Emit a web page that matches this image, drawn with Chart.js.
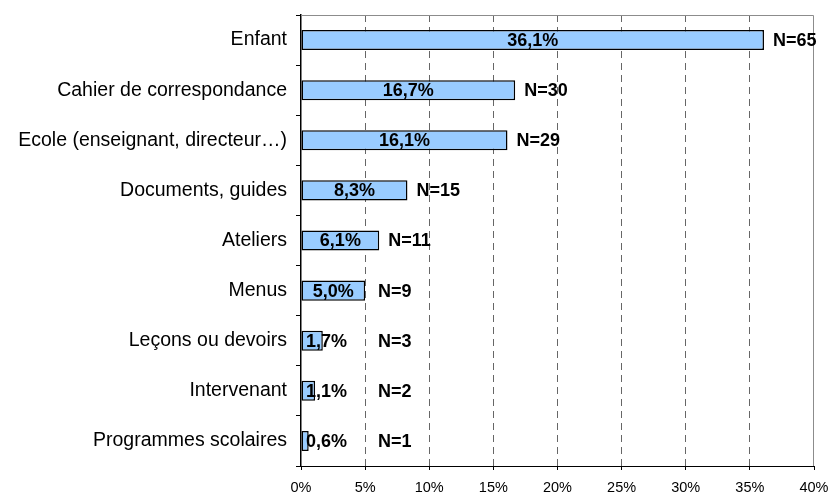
<!DOCTYPE html>
<html>
<head>
<meta charset="utf-8">
<script src="https://cdn.jsdelivr.net/npm/chart.js@4/dist/chart.umd.min.js"></script>
<style>
    html, body { margin: 0; padding: 0; background: #fff; }
    #wrap { width: 831px; height: 494px; }
</style>
</head>
<body>
<div id="wrap"><canvas id="chart" width="831" height="494"></canvas></div>
<script>
// Chart data.
const categories = [
    'Enfant',
    'Cahier de correspondance',
    'Ecole (enseignant, directeur…)',
    'Documents, guides',
    'Ateliers',
    'Menus',
    'Leçons ou devoirs',
    'Intervenant',
    'Programmes scolaires'
];
const percentValues = [36.1, 16.7, 16.1, 8.3, 6.1, 5.0, 1.7, 1.1, 0.6];
const countValues = [65, 30, 29, 15, 11, 9, 3, 2, 1];
const xTicks = [0, 5, 10, 15, 20, 25, 30, 35, 40];

const FONT = "'Liberation Sans', Arial, sans-serif";

// Format a percentage the French way.
function formatPercent(value) {
    return value.toFixed(1).replace('.', ',') + '%';
}

// Draws the value label in each bar and the N= label after it.
const barLabels = {
    id: 'barLabels',
    afterDatasetsDraw(chart) {
        const ctx = chart.ctx;
        const area = chart.chartArea;
        const xScale = chart.scales.x;
        const bars = chart.getDatasetMeta(0).data;

        ctx.save();
        ctx.fillStyle = '#000';
        ctx.textBaseline = 'middle';
        ctx.font = 'bold 18px ' + FONT;

        bars.forEach((bar, index) => {
            // Percentage inside the bar, pushed right when the bar is too short.
            const text = formatPercent(percentValues[index]);
            const width = ctx.measureText(text).width;
            const center = Math.max((bar.base + bar.x) / 2, area.left + 5 + width / 2);
            ctx.textAlign = 'center';
            ctx.fillText(text, center, bar.y + 1);

            // Count after the bar.
            const left = Math.max(bar.x + 9, xScale.getPixelForValue(6));
            ctx.textAlign = 'left';
            ctx.fillText('N=' + countValues[index], left, bar.y + 1);
        });

        ctx.restore();
    }
};

// Grey frame on the top and right of the plot area.
const plotFrame = {
    id: 'plotFrame',
    beforeDatasetsDraw(chart) {
        const ctx = chart.ctx;
        const area = chart.chartArea;
        ctx.save();
        ctx.strokeStyle = '#8c8c8c';
        ctx.lineWidth = 1;
        ctx.beginPath();
        ctx.moveTo(area.left, area.top + 0.5);
        ctx.lineTo(area.right - 0.5, area.top + 0.5);
        ctx.lineTo(area.right - 0.5, area.bottom);
        ctx.stroke();
        ctx.restore();
    }
};

new Chart(document.getElementById('chart'), {
    type: 'bar',
    data: {
        labels: categories,
        datasets: [{
            data: percentValues,
            backgroundColor: '#99ccff',
            borderColor: '#000',
            borderWidth: 1.5,
            borderSkipped: false,
            barPercentage: 0.4,
            categoryPercentage: 1
        }]
    },
    options: {
        indexAxis: 'y',
        responsive: false,
        animation: false,
        layout: {
            padding: { left: 0, top: 15, right: 17, bottom: 0 }
        },
        plugins: {
            legend: { display: false },
            tooltip: { enabled: false }
        },
        scales: {
            x: {
                min: 0,
                max: 40,
                afterFit: scale => {
                    scale.height = 28;
                    scale.paddingLeft = 0;
                    scale.paddingRight = 0;
                },
                afterBuildTicks: scale => { scale.ticks = xTicks.map(value => ({ value })); },
                ticks: {
                    callback: value => value + '%',
                    color: '#000',
                    font: { family: FONT, size: 14.5 },
                    padding: 9,
                    maxRotation: 0
                },
                grid: {
                    color: ctx => (ctx.tick && (ctx.tick.value === 0 || ctx.tick.value === 40)) ? 'rgba(0,0,0,0)' : '#666',
                    lineWidth: 1,
                    tickBorderDash: [],
                    tickColor: '#000',
                    tickLength: 4
                },
                border: { display: true, color: '#000', width: 1, dash: [7, 5] }
            },
            y: {
                afterFit: scale => {
                    scale.width = 301;
                    scale.paddingTop = 0;
                    scale.paddingBottom = 0;
                },
                ticks: {
                    color: '#000',
                    font: { family: FONT, size: 19.5 },
                    padding: 9
                },
                grid: {
                    drawOnChartArea: false,
                    offset: true,
                    tickColor: '#000',
                    tickLength: 5
                },
                border: { display: true, color: '#000', width: 1.5 }
            }
        }
    },
    plugins: [plotFrame, barLabels]
});
</script>
</body>
</html>
